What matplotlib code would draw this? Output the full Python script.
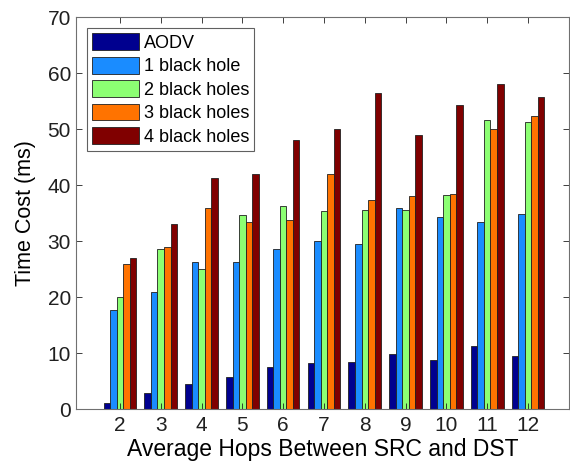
import numpy as np
from matplotlib import pyplot as plt

hops = [2, 3, 4, 5, 6, 7, 8, 9, 10, 11, 12]
aodv = [1.1, 2.9, 4.5, 5.8, 7.5, 8.2, 8.4, 9.9, 8.8, 11.3, 9.5]
bh1 = [17.8, 20.9, 26.3, 26.2, 28.6, 30.0, 29.5, 36.0, 34.4, 33.5, 34.9]
bh2 = [20.0, 28.6, 25.1, 34.6, 36.3, 35.4, 35.6, 35.6, 38.3, 51.6, 51.2]
bh3 = [26.0, 29.0, 36.0, 33.5, 33.8, 42.0, 37.3, 38.0, 38.5, 50.1, 52.3]
bh4 = [27.0, 33.0, 41.3, 42.0, 48.0, 50.0, 56.5, 49.0, 54.4, 58.1, 55.8]

series = [aodv, bh1, bh2, bh3, bh4]
labels = ['AODV', '1 black hole', '2 black holes', '3 black holes', '4 black holes']
colors = ['#00008f', '#1a8cff', '#8cff73', '#ff7300', '#800000']

plt.rcParams['font.family'] = ['Liberation Sans', 'DejaVu Sans']

fig = plt.figure(figsize=(5.7, 4.65), dpi=100)
ax = fig.add_axes([0.133, 0.120, 0.865, 0.843])

x = np.array(hops)
w = 0.16
for i, (vals, lab, col) in enumerate(zip(series, labels, colors)):
    ax.bar(x + (i - 2) * w, vals, width=w, color=col, edgecolor='#202020',
           linewidth=0.6, label=lab)

ax.set_xlim(0.92, 13)
ax.set_ylim(0, 70)
ax.set_xticks(hops)
ax.set_yticks(range(0, 71, 10))
ax.tick_params(axis='both', which='major', labelsize=15, direction='in',
               top=True, right=True, length=4, width=0.6, colors='#202020')
ax.tick_params(axis='x', pad=5)
for s in ax.spines.values():
    s.set_color('#707070')
    s.set_linewidth(0.8)

ax.set_xlabel('Average Hops Between SRC and DST', fontsize=16.5, labelpad=2)
ax.set_ylabel('Time Cost (ms)', fontsize=15.5, labelpad=8)

leg = ax.legend(loc='upper left', fontsize=13, fancybox=False, framealpha=1,
                edgecolor='#606060', handlelength=2.6, handleheight=1.05,
                borderpad=0.3, labelspacing=0.27, handletextpad=0.25,
                borderaxespad=0.6)
leg.get_frame().set_linewidth(0.8)

plt.savefig('out.png', dpi=100)
